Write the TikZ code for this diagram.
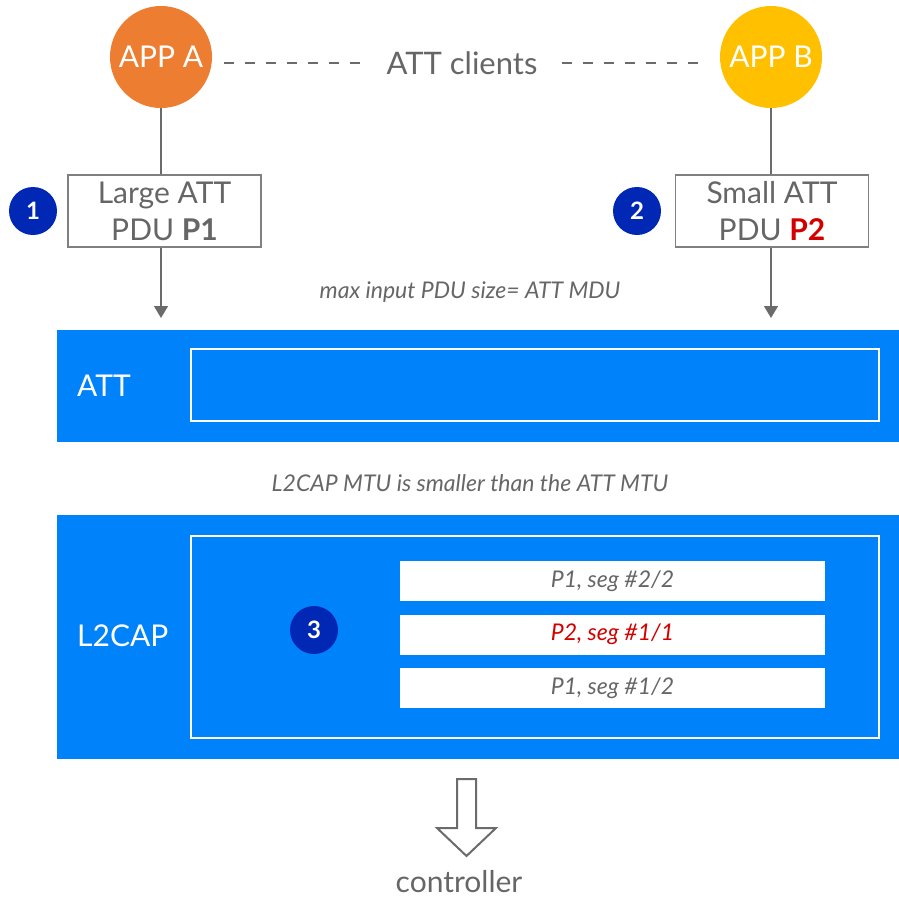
\documentclass[tikz,border=0pt]{standalone}
\usepackage{fontspec}
\setmainfont{Lato}
\usetikzlibrary{arrows.meta}
\definecolor{appaorange}{HTML}{ED7D31}
\definecolor{appbyellow}{HTML}{FFC000}
\definecolor{barblue}{HTML}{0082FB}
\definecolor{badgeblue}{HTML}{0028B5}
\definecolor{txtgray}{HTML}{666666}
\definecolor{linegray}{HTML}{6B6B6B}
\definecolor{boxgray}{HTML}{808080}
\definecolor{pdured}{HTML}{D40000}
\begin{document}
\begin{tikzpicture}[x=1pt,y=-1pt,
  app/.style={circle,minimum size=102pt,inner sep=0pt,text=white,font=\fontsize{30}{32}\selectfont},
  label/.style={text=txtgray,font=\fontsize{31}{34}\selectfont,inner sep=0pt},
  pdubox/.style={draw=boxgray,line width=1.2pt,fill=white,minimum width=193pt,minimum height=72pt,inner sep=0pt,align=center,text=txtgray,font=\fontsize{30}{37}\selectfont},
  badge/.style={circle,fill=badgeblue,minimum size=48pt,inner sep=0pt,text=white,font=\bfseries\fontsize{24}{26}\selectfont},
  conn/.style={draw=linegray,line width=1.5pt},
  dashline/.style={draw=linegray,line width=1.2pt,dash pattern=on 10pt off 11pt},
  note/.style={text=txtgray,font=\itshape\fontsize{23}{26}\selectfont,inner sep=0pt},
  bar/.style={fill=barblue,draw=none},
  inner/.style={draw=white,line width=1.3pt},
  barlabel/.style={text=white,font=\fontsize{30}{32}\selectfont,inner sep=0pt,anchor=west},
  seg/.style={fill=white,minimum width=425pt,minimum height=40pt,inner sep=0pt,text=txtgray,font=\itshape\fontsize{23}{26}\selectfont},
]
\useasboundingbox (0,0) rectangle (899,900);

% apps
\node[app,fill=appaorange] (appa) at (161,57) {APP A};
\node[app,fill=appbyellow] (appb) at (771,57) {APP B};
\node[label] (clients) at (462,63) {ATT clients};
\draw[dashline] ([xshift=12pt]appa.east |- clients.center) -- ([xshift=-19pt]clients.west);
\draw[dashline] ([xshift=24pt]clients.east) -- ([xshift=-16pt]appb.west |- clients.center);

% PDU boxes
\node[pdubox] (pdu1) at (164.5,211) {Large ATT\\PDU \textbf{P1}};
\node[pdubox] (pdu2) at (772,211) {Small ATT\\PDU \textcolor{pdured}{\textbf{P2}}};
\node[badge] (b1) at (33,211) {1};
\node[badge] (b2) at (637,211) {2};

\draw[conn] (appa.south) -- (appa.south |- pdu1.north);
\draw[conn] (appb.south) -- (appb.south |- pdu2.north);
\coordinate (t1) at (161,318);
\coordinate (t2) at (771,318);
\draw[conn,-{Triangle[width=14pt,length=12pt]}] (appa.south |- pdu1.south) -- (t1);
\draw[conn,-{Triangle[width=14pt,length=12pt]}] (appb.south |- pdu2.south) -- (t2);

\node[note] (maxnote) at (470,292) {max input PDU size= ATT MDU};

% ATT layer
\path[bar] (57,330) rectangle (899,442);
\draw[inner] (191,349) rectangle (879,421);
\node[barlabel] (attlbl) at (77,386) {ATT};

\node[note] (mtunote) at (470,483) {L2CAP MTU is smaller than the ATT MTU};

% L2CAP layer
\path[bar] (57,515) rectangle (899,759);
\draw[inner] (191,536) rectangle (879,738);
\node[barlabel] (l2lbl) at (77,636) {L2CAP};
\node[badge] (b3) at (314,630) {3};
\node[seg] (s1) at (612.5,581) {P1, seg \#2/2};
\node[seg,text=pdured] (s2) at (612.5,634.5) {P2, seg \#1/1};
\node[seg] (s3) at (612.5,688) {P1, seg \#1/2};

% controller arrow
\draw[draw=linegray,line width=2pt,line join=miter,fill=white]
  (457,779) -- (476,779) -- (476,828) -- (496,828) -- (466.5,856) -- (437,828) -- (457,828) -- cycle;
\node[label,font=\fontsize{30}{32}\selectfont] (ctrl) at (459,882) {controller};
\end{tikzpicture}
\end{document}
